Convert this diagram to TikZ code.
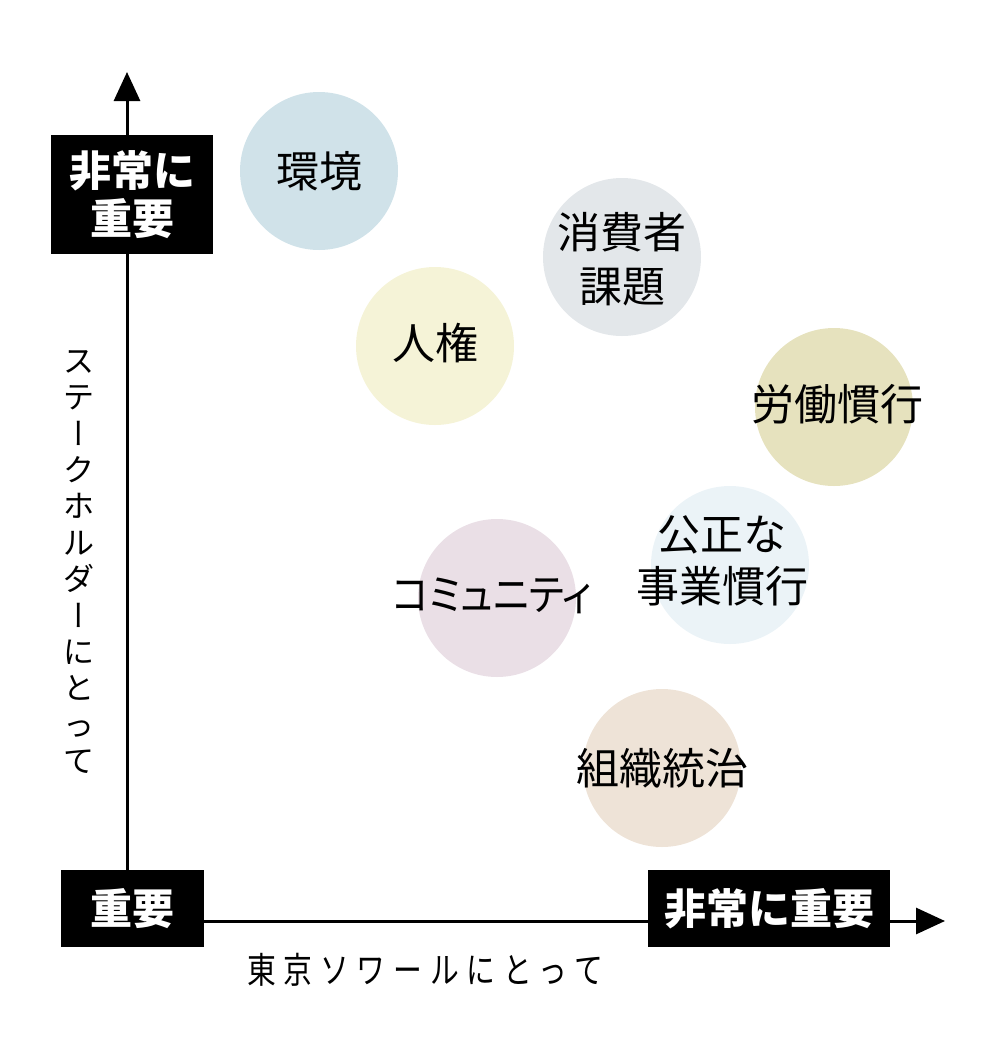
\documentclass[tikz,border=0pt]{standalone}
\usepackage{fontspec}
\setmainfont{Noto Sans CJK JP}
\newfontfamily\vertfont[RawFeature=+vert]{Noto Sans CJK JP}
\usetikzlibrary{arrows.meta}
\definecolor{cEnv}{HTML}{D0E2E9}
\definecolor{cCons}{HTML}{E3E7EA}
\definecolor{cHuman}{HTML}{F5F3D7}
\definecolor{cLabor}{HTML}{E6E2BE}
\definecolor{cFair}{HTML}{EBF3F7}
\definecolor{cComm}{HTML}{EADFE6}
\definecolor{cGov}{HTML}{EEE3D7}
\tikzset{
  axisline/.style={line width=3pt, -{Triangle[length=29pt,width=26pt]}},
  blackbox/.style={fill=black, text=white, inner sep=0pt, align=center,
    font=\bfseries\fontsize{42}{48}\selectfont},
  bubble/.style={circle, inner sep=0pt, minimum size=158pt, draw=none},
  bubbletext/.style={inner sep=0pt, align=center, font=\fontsize{43}{54}\selectfont},
  axislabel/.style={inner sep=0pt, align=center},
}
\begin{document}
\begin{tikzpicture}[x=1pt,y=-1pt]
\useasboundingbox (0,0) rectangle (1005,1053);
% axes
\coordinate (origin) at (127,921);
\coordinate (ytip) at (127,72);
\coordinate (xtip) at (945,921);
\draw[axisline] (origin) -- (ytip);
\draw[axisline] (origin) -- (xtip);
% boxes
\node[blackbox, minimum width=162pt, minimum height=119pt] (ytop) at (132,194.5) {非常に\\重要};
\node[blackbox, minimum width=143pt, minimum height=77pt] (orig) at (132.5,908.5) {重要};
\node[blackbox, minimum width=242pt, minimum height=77pt] (xend) at (769,908.5) {非常に重要};
% axis labels
\node[axislabel, font=\fontsize{31}{36.4}\selectfont] (ylab) at (79,562)
  {ス\\テ\\{\vertfont ー}\\ク\\ホ\\ル\\ダ\\{\vertfont ー}\\に\\と\\っ\\て};
\node[axislabel] (xlab) at (425,970)
  {\scalebox{0.8}[1]{\fontsize{36}{40}\selectfont\addfontfeature{LetterSpace=27}東京ソワールにとって}};
% bubbles
\node[bubble, fill=cEnv] (env) at (319,171) {};
\node[bubbletext] (envt) at (env) {環境};
\node[bubble, fill=cCons] (cons) at (622,257) {};
\node[bubbletext] (const) at ([yshift=-2pt]cons.center) {消費者\\課題};
\node[bubble, fill=cHuman] (human) at (435,346) {};
\node[bubbletext] (humant) at ([yshift=3pt]human.center) {人権};
\node[bubble, fill=cLabor] (labor) at (834,407) {};
\node[bubbletext] (labort) at ([xshift=3pt,yshift=3pt]labor.center) {労働慣行};
\node[bubble, fill=cFair] (fair) at (730,565) {};
\node[bubbletext, font=\fontsize{43}{52}\selectfont] (fairt) at ([xshift=-8pt,yshift=4pt]fair.center) {公正な\\事業慣行};
\node[bubble, fill=cComm] (comm) at (497,598) {};
\node[bubbletext] (commt) at ([xshift=-5pt,yshift=2pt]comm.center) {\scalebox{0.9}[1]{\addfontfeature{RawFeature=+palt}コミュニティ}};
\node[bubble, fill=cGov] (gov) at (662,768) {};
\node[bubbletext] (govt) at (gov) {組織統治};
\end{tikzpicture}
\end{document}
